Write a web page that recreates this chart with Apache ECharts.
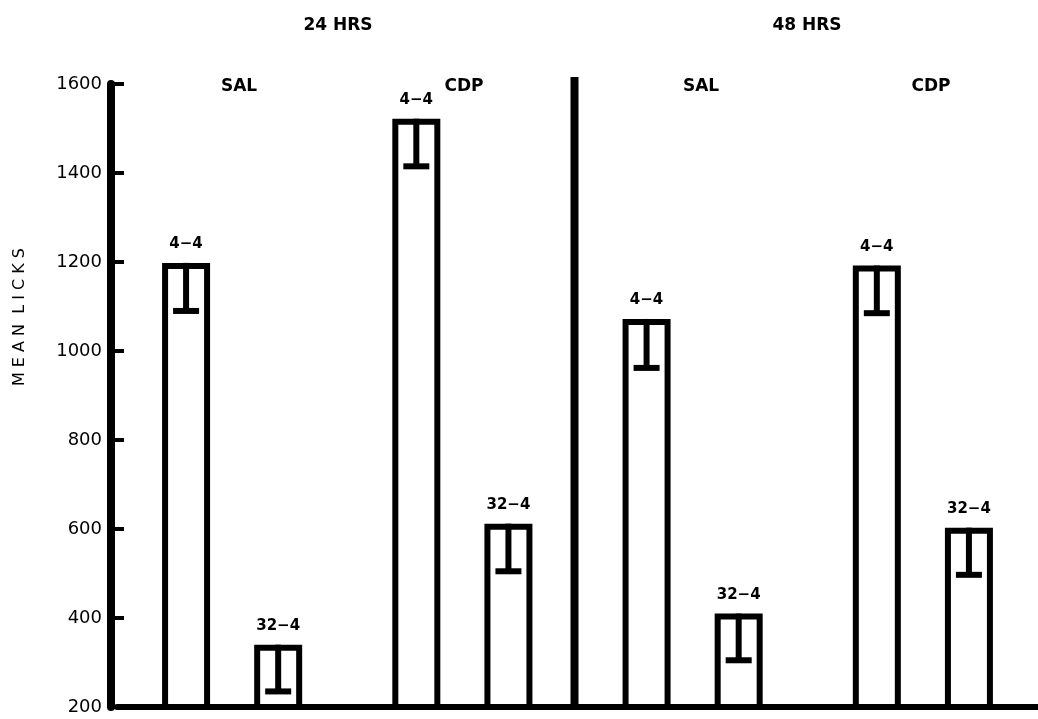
<!DOCTYPE html>
<html>
<head>
<meta charset="utf-8">
<script src="https://cdn.jsdelivr.net/npm/echarts@6/dist/echarts.min.js"></script>
<style>
  html, body { margin: 0; padding: 0; background: #fff; }
  #chart { width: 1038px; height: 719px; }
</style>
</head>
<body>
<div id="chart"></div>
<script>
// groups of the figure, left to right
var groups = ['SAL', 'CDP', 'SAL', 'CDP'];
var periods = ['24 HRS', '48 HRS'];
var barNames = ['4−4', '32−4', '4−4', '32−4', '4−4', '32−4', '4−4', '32−4'];
var meanLicks = [1198, 340, 1522, 612, 1072, 410, 1192, 603];
var errLow = [1090, 235, 1415, 505, 962, 305, 1085, 497];
var yTicks = [200, 400, 600, 800, 1000, 1200, 1400, 1600];

// category slots with blank spacers between bars and groups
var cats = [], vals = [], lows = [], labels = [];
function blank() { cats.push(''); vals.push('-'); lows.push('-'); labels.push(''); }
blank();
for (var i = 0; i < barNames.length; i++) {
  cats.push(barNames[i] + ' ' + i);
  vals.push(meanLicks[i]);
  lows.push(errLow[i]);
  labels.push(barNames[i]);
  if (i < barNames.length - 1) {
    blank();
    if (i % 2 === 1) blank();
  }
}
blank();
var dividerIndex = cats.length / 2;

var font = '"DejaVu Sans", Arial, sans-serif';
var chart = echarts.init(document.getElementById('chart'));

chart.setOption({
  animation: false,
  grid: { left: 117, top: 84, bottom: 12, width: 929 },
  title: [
    { text: periods[0], left: 333, top: 12, textAlign: 'center' },
    { text: periods[1], left: 802, top: 12, textAlign: 'center' },
    { text: groups[0], left: 234, top: 73, textAlign: 'center' },
    { text: groups[1], left: 459, top: 73, textAlign: 'center' },
    { text: groups[2], left: 696, top: 73, textAlign: 'center' },
    { text: groups[3], left: 926, top: 73, textAlign: 'center' }
  ].map(function (t) {
    t.textStyle = { fontFamily: font, fontSize: 17, fontWeight: 'bold', color: '#000' };
    return t;
  }),
  graphic: [{
    type: 'text',
    x: 20, y: 317,
    rotation: Math.PI / 2,
    style: {
      text: 'M E A N  L I C K S',
      fill: '#000',
      font: '16px ' + font,
      textAlign: 'center',
      textVerticalAlign: 'middle'
    }
  }],
  xAxis: {
    type: 'category',
    data: cats,
    axisLine: { lineStyle: { color: '#000', width: 6 } },
    axisTick: { show: false },
    axisLabel: { show: false },
    splitLine: { show: false }
  },
  yAxis: {
    type: 'value',
    min: yTicks[0],
    max: yTicks[yTicks.length - 1],
    interval: 200,
    offset: 6,
    axisLine: { show: true, lineStyle: { color: '#000', width: 8 } },
    axisTick: { show: true, inside: true, length: 13, lineStyle: { color: '#000', width: 4 } },
    axisLabel: {
      color: '#000', fontSize: 18, fontFamily: font, margin: 9,
      formatter: function (v) { return String(v); }
    },
    splitLine: { show: false }
  },
  series: [
    {
      type: 'bar',
      data: vals,
      barWidth: 48,
      itemStyle: { color: '#fff', borderColor: '#000', borderWidth: 6 },
      label: {
        show: true,
        position: 'top',
        distance: 11,
        color: '#000',
        fontFamily: font,
        fontSize: 15,
        fontWeight: 'bold',
        formatter: function (p) { return labels[p.dataIndex]; }
      }
    },
    {
      type: 'custom',
      data: cats.map(function (c, i) { return [i, vals[i], lows[i]]; }),
      renderItem: function (params, api) {
        if (api.value(1) === '-' || isNaN(api.value(1))) return;
        var top = api.coord([api.value(0), api.value(1)]);
        var low = api.coord([api.value(0), api.value(2)]);
        return {
          type: 'group',
          children: [
            { type: 'rect', shape: { x: top[0] - 3, y: top[1], width: 6, height: low[1] - top[1] }, style: { fill: '#000' } },
            { type: 'rect', shape: { x: top[0] - 13, y: low[1] - 3, width: 26, height: 6 }, style: { fill: '#000' } }
          ]
        };
      },
      z: 5
    },
    {
      // vertical divider between the 24 and 48 hour panels
      type: 'custom',
      data: [[dividerIndex - 1, dividerIndex]],
      renderItem: function (params, api) {
        var a = api.coord([api.value(0), yTicks[0]]);
        var b = api.coord([api.value(1), yTicks[0]]);
        var top = api.coord([api.value(1), yTicks[yTicks.length - 1]]);
        var x = (a[0] + b[0]) / 2 - 4;
        return {
          type: 'rect',
          shape: { x: x - 3, y: top[1] - 7, width: 8, height: a[1] - top[1] + 7 },
          style: { fill: '#000' }
        };
      },
      z: 6
    }
  ]
});
</script>
</body>
</html>
